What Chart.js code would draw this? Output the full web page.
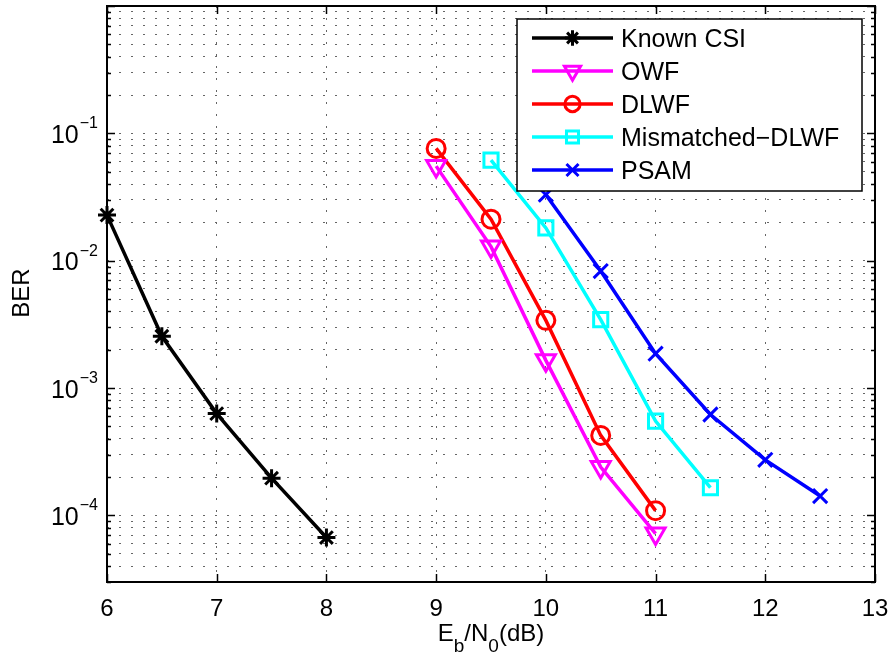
<!DOCTYPE html>
<html>
<head>
<meta charset="utf-8">
<script src="https://cdn.jsdelivr.net/npm/chart.js@4/dist/chart.umd.min.js"></script>
<style>
  html, body { margin: 0; padding: 0; background: #fff; }
  canvas { display: block; }
</style>
</head>
<body>
<canvas id="c" width="891" height="655"></canvas>
<script>
// Eb/N0 points (dB) and measured bit error rates for each receiver
const knownX      = [6, 6.5, 7, 7.5, 8];
const knownCSI    = [0.0228, 0.00255, 6.3e-4, 1.96e-4, 6.7e-5];
const owfX        = [9, 9.5, 10, 10.5, 11];
const owf         = [0.0553, 0.0129, 0.00165, 2.4e-4, 7.2e-5];
const dlwfX       = [9, 9.5, 10, 10.5, 11];
const dlwf        = [0.0762, 0.0212, 0.0034, 4.25e-4, 1.09e-4];
const mismatchedX = [9.5, 10, 10.5, 11, 11.5];
const mismatched  = [0.0616, 0.0181, 0.00345, 5.5e-4, 1.65e-4];
const psamX       = [10, 10.5, 11, 11.5, 12, 12.5];
const psam        = [0.033, 0.0083, 0.00186, 6.2e-4, 2.73e-4, 1.42e-4];

const seriesNames = ['Known CSI', 'OWF', 'DLWF', 'Mismatched\u2212DLWF', 'PSAM'];

// axis ticks
const xTicks = [6, 7, 8, 9, 10, 11, 12, 13];
const yDecadeExps = [-1, -2, -3, -4];
const yGridValues = [];
for (let e = -5; e <= 0; e++) {
  for (let m = 1; m <= 9; m++) {
    const v = m * Math.pow(10, e);
    if (v >= 3e-5 * 0.999 && v <= 1.0001) yGridValues.push(v);
  }
}

const FONT = '"Liberation Sans", Arial, Helvetica, sans-serif';

const styles = [
  { color: '#000000', pointStyle: 'star',     radius: 9,   rotation: 0 },
  { color: '#ff00ff', pointStyle: 'triangle', radius: 11,  rotation: 180 },
  { color: '#ff0000', pointStyle: 'circle',   radius: 9,   rotation: 0 },
  { color: '#00ffff', pointStyle: 'rect',     radius: 10,  rotation: 0 },
  { color: '#0000ff', pointStyle: 'crossRot', radius: 10,  rotation: 0 }
];

const xs = [knownX, owfX, dlwfX, mismatchedX, psamX];
const ys = [knownCSI, owf, dlwf, mismatched, psam];

const datasets = seriesNames.map((name, i) => ({
  label: name,
  data: xs[i].map((x, k) => ({ x: x, y: ys[i][k] })),
  borderColor: styles[i].color,
  borderWidth: 3.5,
  pointStyle: styles[i].pointStyle,
  pointRadius: styles[i].radius,
  pointRotation: styles[i].rotation,
  pointBorderColor: styles[i].color,
  pointBackgroundColor: 'rgba(0,0,0,0)',
  pointBorderWidth: 3,
  pointHoverRadius: styles[i].radius,
  tension: 0,
  fill: false,
  clip: false
}));

function isDecade(v) {
  const l = Math.log10(v);
  return Math.abs(l - Math.round(l)) < 1e-9;
}

// axes box, inward ticks, tick labels, axis titles and legend
const decorations = {
  id: 'decorations',
  afterDatasetsDraw(chart) {
    const ctx = chart.ctx;
    const a = chart.chartArea;
    const xs_ = chart.scales.x, ys_ = chart.scales.y;
    ctx.save();
    ctx.strokeStyle = '#000';
    ctx.lineWidth = 1.5;
    // inward ticks
    ctx.beginPath();
    xTicks.forEach(v => {
      const px = Math.round(xs_.getPixelForValue(v)) + 0.5;
      ctx.moveTo(px, a.bottom); ctx.lineTo(px, a.bottom - 8);
      ctx.moveTo(px, a.top); ctx.lineTo(px, a.top + 8);
    });
    yGridValues.forEach(v => {
      const py = Math.round(ys_.getPixelForValue(v)) + 0.5;
      const len = isDecade(v) ? 8 : 4;
      ctx.moveTo(a.left, py); ctx.lineTo(a.left + len, py);
      ctx.moveTo(a.right, py); ctx.lineTo(a.right - len, py);
    });
    ctx.stroke();
    // box
    ctx.lineWidth = 2;
    ctx.strokeRect(a.left, a.top, a.right - a.left, a.bottom - a.top);

    // x tick labels
    ctx.fillStyle = '#000';
    ctx.font = '24px ' + FONT;
    ctx.textAlign = 'center';
    ctx.textBaseline = 'alphabetic';
    xTicks.forEach(v => {
      ctx.fillText(String(v), xs_.getPixelForValue(v), a.bottom + 34);
    });

    // y tick labels: 10 with superscript exponent
    yDecadeExps.forEach(e => {
      const py = ys_.getPixelForValue(Math.pow(10, e));
      const sup = '\u2212' + String(Math.abs(e));
      ctx.font = '16px ' + FONT;
      const wSup = ctx.measureText(sup).width;
      ctx.font = '25px ' + FONT;
      const wBase = ctx.measureText('10').width;
      const right = a.left - 9;
      ctx.textAlign = 'left';
      ctx.fillText('10', right - wSup - wBase - 1, py + 9.5);
      ctx.font = '16px ' + FONT;
      ctx.fillText(sup, right - wSup, py - 5);
    });

    // y axis title
    ctx.save();
    ctx.translate(22, 293);
    ctx.rotate(-Math.PI / 2);
    ctx.font = '24px ' + FONT;
    ctx.textAlign = 'center';
    ctx.textBaseline = 'middle';
    ctx.fillText('BER', 0, 0);
    ctx.restore();

    // x axis title: E_b/N_0(dB)
    const parts = [
      { t: 'E', sub: false }, { t: 'b', sub: true },
      { t: '/N', sub: false }, { t: '0', sub: true },
      { t: '(dB)', sub: false }
    ];
    let total = 0;
    parts.forEach(p => {
      ctx.font = (p.sub ? '19px ' : '24px ') + FONT;
      p.w = ctx.measureText(p.t).width;
      total += p.w;
    });
    let cx = (a.left + a.right) / 2 - total / 2;
    ctx.textAlign = 'left';
    parts.forEach(p => {
      ctx.font = (p.sub ? '19px ' : '24px ') + FONT;
      ctx.fillText(p.t, cx, p.sub ? 652 : 641);
      cx += p.w;
    });

    // legend
    const lx = 517, ly = 19, lw = 345, lh = 172;
    ctx.fillStyle = '#fff';
    ctx.fillRect(lx, ly, lw, lh);
    ctx.lineWidth = 1.5;
    ctx.strokeStyle = '#000';
    ctx.strokeRect(lx, ly, lw, lh);
    seriesNames.forEach((name, i) => {
      const ry = 38 + 33 * i;
      const st = styles[i];
      ctx.strokeStyle = st.color;
      ctx.lineWidth = 3.5;
      ctx.beginPath();
      ctx.moveTo(532, ry); ctx.lineTo(613, ry);
      ctx.stroke();
      ctx.fillStyle = 'rgba(0,0,0,0)';
      ctx.lineWidth = 3;
      Chart.helpers.drawPoint(ctx, {
        pointStyle: st.pointStyle,
        rotation: st.rotation,
        radius: st.radius * 0.85,
        borderWidth: 3
      }, 572.5, ry);
      ctx.fillStyle = '#000';
      ctx.font = '25px ' + FONT;
      ctx.textAlign = 'left';
      ctx.textBaseline = 'alphabetic';
      ctx.fillText(name, 621, ry + 9);
    });
    ctx.restore();
  }
};

new Chart(document.getElementById('c'), {
  type: 'line',
  data: { datasets: datasets },
  options: {
    responsive: false,
    animation: false,
    layout: { autoPadding: false, padding: { left: 107, top: 6, right: 16, bottom: 73 } },
    plugins: { legend: { display: false }, tooltip: { enabled: false } },
    scales: {
      x: {
        type: 'linear',
        min: 6, max: 13,
        afterBuildTicks: s => { s.ticks = xTicks.map(v => ({ value: v })); },
        afterFit: s => { s.height = 0; },
        ticks: { display: false },
        grid: { color: '#666', lineWidth: 1, drawTicks: false },
        border: { display: false, dash: [2, 10] }
      },
      y: {
        type: 'logarithmic',
        min: 3e-5, max: 1,
        afterBuildTicks: s => { s.ticks = yGridValues.map(v => ({ value: v })); },
        afterFit: s => { s.width = 0; },
        ticks: { display: false },
        grid: { color: '#666', lineWidth: 1, drawTicks: false },
        border: { display: false, dash: [2, 10] }
      }
    }
  },
  plugins: [decorations]
});
</script>
</body>
</html>
